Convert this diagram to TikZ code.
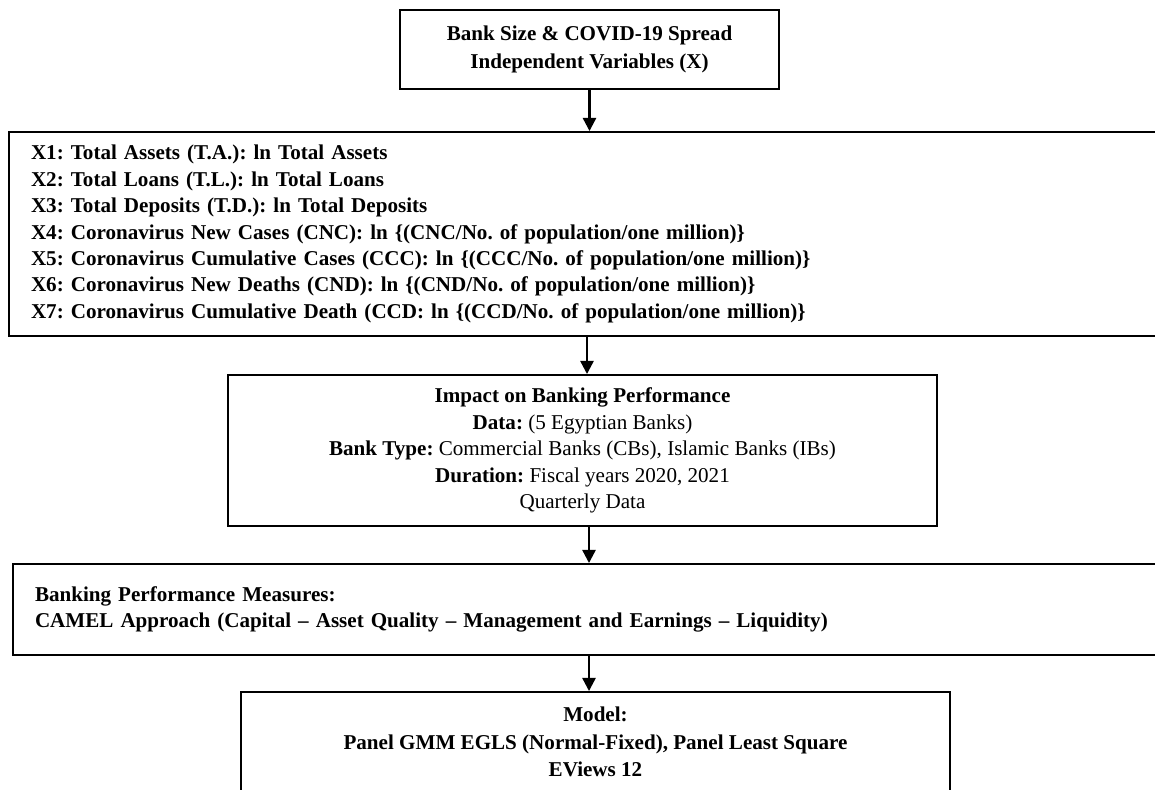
\documentclass[tikz,border=0pt]{standalone}
\usepackage{fontspec}
\setmainfont{Liberation Serif}
\frenchspacing
\usetikzlibrary{arrows.meta}
\tikzstyle{flowbox}=[draw=black,line width=1.1pt,align=center,inner sep=0pt,
  font=\fontsize{12}{15}\selectfont]
\tikzstyle{listbox}=[flowbox,align=left,inner xsep=0.44cm,text width=22.24cm,
  minimum width=23.12cm,font=\fontsize{12}{15}\selectfont\bfseries]
\tikzstyle{flowarrow}=[-{Triangle[width=7.5pt,length=7.5pt]},line width=1.3pt]

\begin{document}
\begin{tikzpicture}
  \useasboundingbox (0,0) rectangle (23.1,-15.8);
  \node[flowbox,minimum width=7.58cm,minimum height=1.58cm,font=\fontsize{12}{16}\selectfont\bfseries]
    (sizebox) at (11.79,-0.99) {Bank Size \& COVID-19 Spread\\Independent Variables (X)};
  \node[listbox,minimum height=4.08cm] (varbox) at (11.74,-4.68) {%
    X1: Total Assets (T.A.): ln Total Assets\\
    X2: Total Loans (T.L.): ln Total Loans\\
    X3: Total Deposits (T.D.): ln Total Deposits\\
    X4: Coronavirus New Cases (CNC): ln \{(CNC/No. of population/one million)\}\\
    X5: Coronavirus Cumulative Cases (CCC): ln \{(CCC/No. of population/one million)\}\\
    X6: Coronavirus New Deaths (CND): ln \{(CND/No. of population/one million)\}\\
    X7: Coronavirus Cumulative Death (CCD: ln \{(CCD/No. of population/one million)\}};
  \node[flowbox,minimum width=14.18cm,minimum height=3.02cm] (impactbox) at (11.65,-9.01) {%
    \textbf{Impact on Banking Performance}\\
    \textbf{Data:} (5 Egyptian Banks)\\
    \textbf{Bank Type:} Commercial Banks (CBs), Islamic Banks (IBs)\\
    \textbf{Duration:} Fiscal years 2020, 2021\\
    Quarterly Data};
  \node[listbox,minimum width=23.04cm,text width=22.16cm,minimum height=1.82cm]
    (camelbox) at (11.78,-12.19) {%
    Banking Performance Measures:\\
    CAMEL Approach (Capital -- Asset Quality -- Management and Earnings -- Liquidity)};
  \node[flowbox,minimum width=14.18cm,minimum height=2.0cm,font=\fontsize{12}{15.5}\selectfont\bfseries]
    (modelbox) at (11.91,-14.84) {%
    Model:\\
    Panel GMM EGLS (Normal-Fixed), Panel Least Square\\
    EViews 12};
  % arrows between the boxes
  \draw[flowarrow] (sizebox.south) -- (sizebox.south |- varbox.north);
  \draw[flowarrow] (varbox.south) -- (varbox.south |- impactbox.north);
  \draw[flowarrow] (camelbox.north |- impactbox.south) -- (camelbox.north);
  \draw[flowarrow] (camelbox.south) -- (camelbox.south |- modelbox.north);
\end{tikzpicture}
\end{document}
